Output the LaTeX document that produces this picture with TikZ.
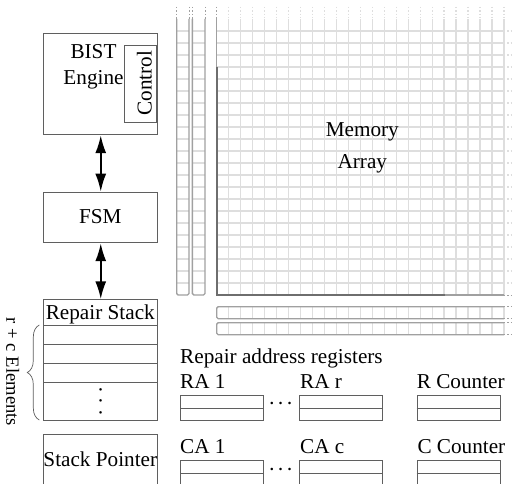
\documentclass[tikz,border=0pt]{standalone}
\usepackage{fontspec}
\setmainfont{Liberation Serif}
\usetikzlibrary{arrows.meta,decorations.pathreplacing}
\definecolor{boxc}{RGB}{95,95,95}
\definecolor{gridc}{RGB}{222,222,222}
\definecolor{framec}{RGB}{160,160,160}
\definecolor{darkc}{RGB}{110,110,110}
\begin{document}
\begin{tikzpicture}[x=1pt,y=-1pt,
  box/.style={draw=boxc, line width=0.9pt, inner sep=0pt},
  lbl/.style={inner sep=0pt, font=\fontsize{21.2}{25}\selectfont},
  gridl/.style={draw=gridc, line width=1.3pt},
  framel/.style={draw=framec, line width=1.4pt},
  darkl/.style={draw=darkc, line width=1.7pt},
  bidir/.style={{Latex[length=18pt,width=11pt]}-{Latex[length=18pt,width=11pt]}, line width=2pt, draw=black},
  reg/.style={box, minimum width=82.5pt, minimum height=25pt, anchor=north west}
]
\clip (0,0) rectangle (514,484);
\fill[white] (0,0) rectangle (514,484);

% ---- memory grid ----
\foreach \i in {1,...,24} {
  \pgfmathsetmacro\xx{216.7+11.97*\i}
  \draw[gridl] (\xx,19) -- (\xx,295);
  \draw[gridl,dotted] (\xx,7) -- (\xx,19);
  \draw[gridl] (\xx,306.7) -- (\xx,318.7);
  \draw[gridl] (\xx,322.7) -- (\xx,334.7);
}
\foreach \j in {1,...,22} {
  \pgfmathsetmacro\yy{295-12*\j}
  \draw[gridl] (216.7,\yy) -- (504,\yy);
  \draw[gridl,dotted] (504,\yy) -- (512,\yy);
  \draw[gridl] (176.7,\yy) -- (189,\yy);
  \draw[gridl] (192.3,\yy) -- (205,\yy);
}
% spare columns
\draw[framel, rounded corners=1.5pt] (176.7,19) -- (176.7,295) -- (189,295) -- (189,19);
\draw[framel, rounded corners=1.5pt] (192.3,19) -- (192.3,295) -- (205,295) -- (205,19);
\foreach \xx in {176.7,189,192.3,205,216.7}
  \draw[framel,dotted,line width=1pt] (\xx,7) -- (\xx,19);
% main frame
\draw[framel] (216.7,19) -- (216.7,295) -- (504,295);
\draw[darkl] (216.7,67) -- (216.7,295) -- (444.5,295);
% spare rows
\draw[framel, rounded corners=1.5pt] (504,306.7) -- (216.7,306.7) -- (216.7,318.7) -- (504,318.7);
\draw[framel, rounded corners=1.5pt] (504,322.7) -- (216.7,322.7) -- (216.7,334.7) -- (504,334.7);
\foreach \yy in {295,306.7,318.7,322.7,334.7}
  \draw[framel,dotted,line width=1pt] (504,\yy) -- (512,\yy);

\node[lbl, anchor=base] (mem) at (362.3,136) {Memory};
\node[lbl, anchor=base] (arr) at (362.3,168.3) {Array};

% ---- left column ----
\node[box, minimum width=114pt, minimum height=101.6pt, anchor=north west] (bist) at (43.3,32.7) {};
\node[box, minimum width=32pt, minimum height=76.4pt, anchor=north east] (ctrl) at (157.3,45.3) {};
\node[lbl, anchor=base] (bistt) at (93.5,59) {BIST};
\node[lbl, anchor=base] (engt) at (93.5,84.3) {Engine};
\node[lbl, rotate=90] (ctrlt) at (144.3,83.3) {Control};

\node[box, minimum width=114pt, minimum height=50.6pt, anchor=north west] (fsm) at (43.3,191.7) {};
\node[lbl, anchor=base] (fsmt) at (100.3,223.3) {FSM};

\node[box, minimum width=114pt, minimum height=120.7pt, anchor=north west] (stack) at (43.3,299.3) {};
\node[lbl, anchor=base] (stackt) at (100.3,319.3) {Repair Stack};
\foreach \yy in {325,344,363.3,382.3}
  \draw[box] (stack.west |- 0,\yy) -- (stack.east |- 0,\yy);
\node[lbl, rotate=90, text height=2.4pt, text depth=0pt] (vd) at (100.3,401.2) {.\kern5.9pt.\kern5.9pt.};

\node[box, minimum width=114pt, minimum height=70pt, anchor=north west] (sp) at (43.3,434.3) {};
\node[lbl, anchor=base] (spt) at (100.3,466) {Stack Pointer};

\draw[bidir] (bist.south) -- (fsm.north);
\draw[bidir] (fsm.south) -- (stack.north);

% brace
\coordinate (bra) at (39.3,420);
\coordinate (brb) at (39.3,325);
\draw[draw=boxc, line width=0.7pt, decorate, decoration={brace, amplitude=12pt}] (bra) -- (brb);
\node[inner sep=0pt, font=\fontsize{18.6}{22}\selectfont, rotate=-90] (rc) at (12.7,372) {r + c Elements};

% ---- registers ----
\node[lbl, anchor=base west] (rart) at (180,363.3) {Repair address registers};
\node[lbl, anchor=base west] (ra1t) at (180,388.3) {RA 1};
\node[lbl, anchor=base west] (rart2) at (300,388.3) {RA r};
\node[lbl, anchor=base west] (rct) at (416.7,388.3) {R Counter};
\node[reg] (ra1) at (180,395) {};
\node[reg, minimum width=83pt] (rar) at (299.3,395) {};
\node[reg, minimum width=83.3pt] (rc1) at (416.7,395) {};
\foreach \n in {ra1,rar,rc1} \draw[box] (\n.west) -- (\n.east);
\node[lbl] (d1) at (280.7,406.5) {\textperiodcentered\kern1.8pt\textperiodcentered\kern1.8pt\textperiodcentered};

\node[lbl, anchor=base west] (ca1t) at (180,453.3) {CA 1};
\node[lbl, anchor=base west] (cact) at (300,453.3) {CA c};
\node[lbl, anchor=base west] (cct) at (417.3,453.3) {C Counter};
\node[reg] (ca1) at (180,460) {};
\node[reg, minimum width=83pt] (cac) at (299.3,460) {};
\node[reg, minimum width=83.3pt] (cc1) at (416.7,460) {};
\foreach \n in {ca1,cac,cc1} \draw[box] (\n.west) -- (\n.east);
\node[lbl] (d2) at (280.7,472.2) {\textperiodcentered\kern1.8pt\textperiodcentered\kern1.8pt\textperiodcentered};
\end{tikzpicture}
\end{document}
